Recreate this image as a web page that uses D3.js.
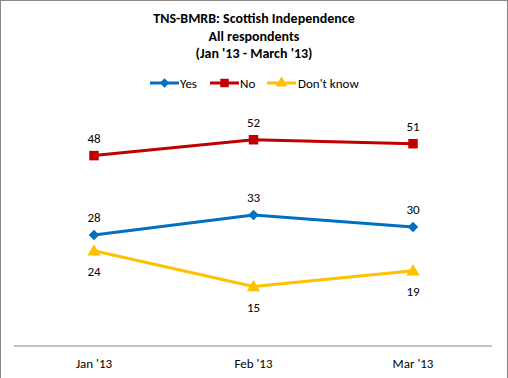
<!DOCTYPE html>
<html><head><meta charset="utf-8">
<script src="https://cdn.jsdelivr.net/npm/d3@7"></script>
<style>body{margin:0;background:#fff}svg{display:block;font-family:Carlito,Calibri,"Open Sans","Liberation Sans",sans-serif}</style>
</head><body>
<svg id="c" width="508" height="378"></svg>
<script>
const categories = ["Jan '13", "Feb '13", "Mar '13"];
const yesValues = [28, 33, 30];
const noValues = [48, 52, 51];
const dkValues = [24, 15, 19];
const seriesNames = ["Yes", "No", "Don't know"];
const titleLines = ["TNS-BMRB: Scottish Independence", "All respondents", "(Jan '13 - March '13)"];

const diamond = {draw(ctx, size){ const r = Math.sqrt(size/2); ctx.moveTo(0,-r); ctx.lineTo(r,0); ctx.lineTo(0,r); ctx.lineTo(-r,0); ctx.closePath(); }};

const series = [
  {name: seriesNames[0], values: yesValues, color: "#0070C0", symbol: diamond, size: 55, labelPos: "above"},
  {name: seriesNames[1], values: noValues, color: "#C00000", symbol: d3.symbolSquare, size: 90, labelPos: "above"},
  {name: seriesNames[2], values: dkValues, color: "#FFC000", symbol: d3.symbolTriangle, size: 75, labelPos: "below"}
];

const svg = d3.select("#c");
svg.append("rect").attr("x",0.5).attr("y",0.5).attr("width",507).attr("height",390)
  .attr("fill","#fff").attr("stroke","#878787").attr("stroke-width",1);

const x = d3.scalePoint().domain(categories).range([94, 413]);
const y = d3.scaleLinear().domain([0, 60]).range([346, 108]);

// title
svg.append("g").selectAll("text").data(titleLines).join("text")
  .attr("x", 254).attr("y", (d,i)=>23 + i*17.5)
  .attr("text-anchor","middle").attr("font-weight","bold").attr("font-size",14).attr("fill","#000")
  .text(d=>d);

// legend
const legX = [150, 210, 267];
const lg = svg.append("g").selectAll("g").data(series).join("g")
  .attr("transform",(d,i)=>`translate(${legX[i]},83)`);
lg.append("line").attr("x1",0).attr("x2",29).attr("stroke",d=>d.color).attr("stroke-width",3);
lg.append("path").attr("transform","translate(14.5,0)")
  .attr("d",d=>d3.symbol(d.symbol, d.size*0.8)()).attr("fill",d=>d.color);
lg.append("text").attr("x",(d,i)=> i===2 ? 31 : 30).attr("y",4.5).attr("font-size",13).attr("fill","#000").text(d=>d.name);

// axis
const ax = svg.append("g").attr("transform","translate(0,346)");
ax.append("line").attr("x1",14).attr("x2",492).attr("stroke","#878787").attr("stroke-width",1);
ax.selectAll("text").data(categories).join("text")
  .attr("x",d=>x(d)).attr("y",22).attr("text-anchor","middle").attr("font-size",13).attr("fill","#000").text(d=>d);

// lines
const line = d3.line().x((d,i)=>x(categories[i])).y(d=>y(d));
const sg = svg.append("g").selectAll("g").data(series).join("g");
sg.append("path").attr("d",d=>line(d.values)).attr("fill","none").attr("stroke",d=>d.color).attr("stroke-width",3).attr("stroke-linejoin","round");
sg.each(function(s){
  const g = d3.select(this);
  g.selectAll("path.m").data(s.values).join("path").attr("class","m")
    .attr("transform",(d,i)=>`translate(${x(categories[i])},${y(d) + (s.symbol===d3.symbolTriangle?1:0)})`)
    .attr("d",d3.symbol(s.symbol, s.size)()).attr("fill",s.color);
  g.selectAll("text").data(s.values).join("text")
    .attr("x",(d,i)=>x(categories[i]))
    .attr("y",d=> s.labelPos==="above" ? y(d)-13 : y(d)+25)
    .attr("text-anchor","middle").attr("font-size",13).attr("fill","#000").text(d=>d);
});
</script>
</body></html>
